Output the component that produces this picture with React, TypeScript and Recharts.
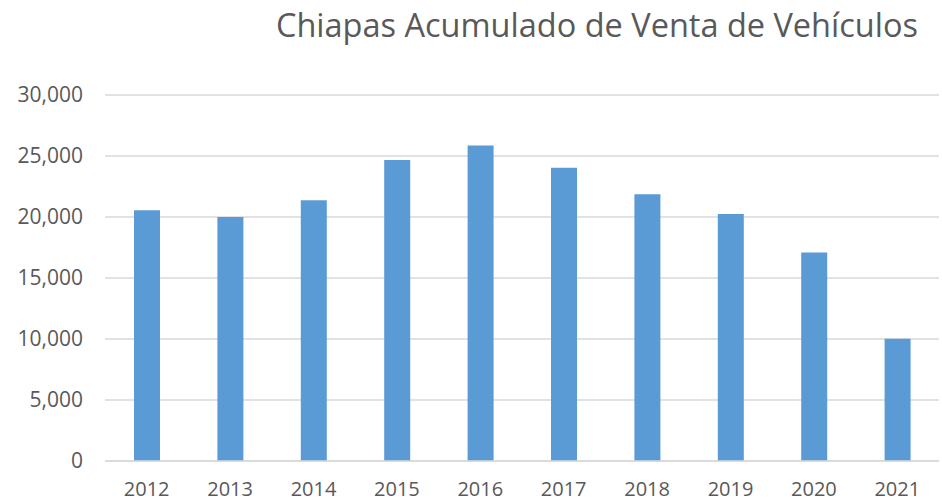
import { BarChart, Bar, XAxis, YAxis, CartesianGrid } from "recharts";

const TITLE = "Chiapas Acumulado de Venta de Vehículos";
const YEARS = ["2012", "2013", "2014", "2015", "2016", "2017", "2018", "2019", "2020", "2021"];
const SALES = [20550, 20000, 21370, 24670, 25870, 24040, 21860, 20250, 17080, 10030];
const Y_TICKS = [0, 5000, 10000, 15000, 20000, 25000, 30000];

const BAR = "#5b9bd5";
const GRID = "#d9d9d9";
const TEXT = "#595959";
const FONT = "'Open Sans', sans-serif";

const data = YEARS.map((year, i) => ({ year, value: SALES[i] }));

export default function App() {
  return (
    <div style={{ position: "absolute", left: 0, top: 0, width: 942, height: 501, background: "#fff", fontFamily: FONT }}>
      <div
        style={{
          position: "absolute",
          top: 3,
          right: 24,
          fontSize: 32.5,
          lineHeight: "44px",
          color: TEXT,
          whiteSpace: "nowrap",
        }}
      >
        {TITLE}
      </div>
      <BarChart width={942} height={501} data={data} margin={{ top: 95, right: 3, bottom: 0, left: 0 }}>
        <CartesianGrid stroke={GRID} strokeWidth={1.5} vertical={false} />
        <XAxis
          dataKey="year"
          height={40}
          tickLine={false}
          axisLine={{ stroke: GRID, strokeWidth: 1.5 }}
          tick={{ fill: TEXT, fontSize: 20, fontFamily: FONT }}
          tickMargin={15}
          interval={0}
        />
        <YAxis
          width={105}
          domain={[0, 30000]}
          ticks={Y_TICKS}
          tickLine={false}
          axisLine={false}
          tick={{ fill: TEXT, fontSize: 21, fontFamily: FONT }}
          tickMargin={16}
          tickFormatter={(v: number) => v.toLocaleString("en-US")}
        />
        <Bar dataKey="value" fill={BAR} barSize={26} isAnimationActive={false} />
      </BarChart>
    </div>
  );
}
